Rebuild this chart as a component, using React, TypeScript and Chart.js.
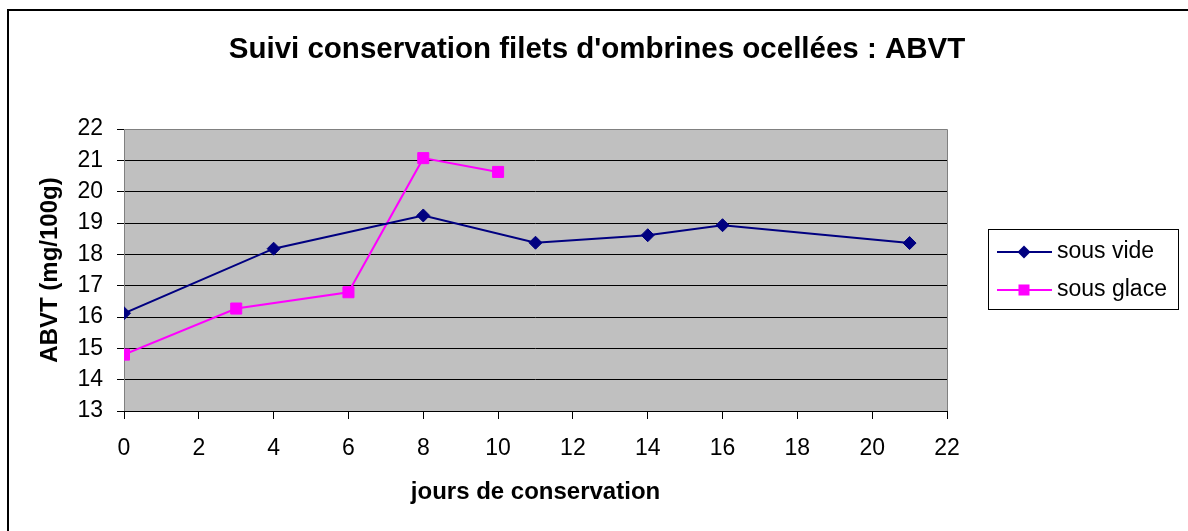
import React, { useEffect, useRef } from 'react';
import { Chart, registerables } from 'chart.js';

Chart.register(...registerables);

// ---- Data ----
const daysVide = [0, 4, 8, 11, 14, 16, 21];
const valuesVide = [16.12, 18.18, 19.24, 18.37, 18.61, 18.93, 18.36];
const daysGlace = [0, 3, 6, 8, 10];
const valuesGlace = [14.8, 16.27, 16.79, 21.07, 20.63];
const seriesNames = ['sous vide', 'sous glace'];
const chartTitle = "Suivi conservation filets d'ombrines ocellées : ABVT";
const xAxisTitle = 'jours de conservation';
const yAxisTitle = 'ABVT (mg/100g)';
const xRange = [0, 22];
const xStep = 2;
const yRange = [13, 22];
const yStep = 1;

const FONT = '"Liberation Sans", Arial, Helvetica, sans-serif';

const decorPlugin = {
  id: 'excelDecor',
  beforeDraw(chart: any) {
    const { ctx, chartArea: a } = chart;
    ctx.save();
    ctx.fillStyle = '#ffffff';
    ctx.fillRect(0, 0, chart.width, chart.height);
    // outer frame
    ctx.strokeStyle = '#000000';
    ctx.lineWidth = 2;
    ctx.strokeRect(8, 10, 2000, 2000);
    // plot background
    ctx.fillStyle = '#C0C0C0';
    ctx.fillRect(a.left, a.top, a.right - a.left, a.bottom - a.top);
    ctx.restore();
  },
  beforeDatasetsDraw(chart: any) {
    const { ctx, chartArea: a } = chart;
    ctx.save();
    ctx.strokeStyle = '#808080';
    ctx.lineWidth = 1;
    ctx.beginPath();
    ctx.moveTo(a.left + 0.5, a.bottom);
    ctx.lineTo(a.left + 0.5, a.top + 0.5);
    ctx.lineTo(a.right + 0.5, a.top + 0.5);
    ctx.lineTo(a.right + 0.5, a.bottom);
    ctx.stroke();
    ctx.strokeStyle = '#000000';
    ctx.beginPath();
    ctx.moveTo(a.left, a.bottom + 0.5);
    ctx.lineTo(a.right + 1, a.bottom + 0.5);
    ctx.stroke();
    ctx.restore();
  },
  afterDraw(chart: any) {
    const { ctx, chartArea: a } = chart;
    ctx.save();
    ctx.fillStyle = '#000000';
    // title
    ctx.font = `bold 29.5px ${FONT}`;
    ctx.textAlign = 'center';
    ctx.textBaseline = 'alphabetic';
    ctx.fillText(chartTitle, 597, 58);
    // x axis title
    ctx.font = `bold 24px ${FONT}`;
    ctx.fillText(xAxisTitle, (a.left + a.right) / 2, 499);
    // y axis title
    ctx.save();
    ctx.translate(56.5, (a.top + a.bottom) / 2);
    ctx.rotate(-Math.PI / 2);
    ctx.fillText(yAxisTitle, 0, 0);
    ctx.restore();

    // legend
    ctx.strokeStyle = '#000000';
    ctx.lineWidth = 1;
    ctx.strokeRect(988.5, 229.5, 190, 80);
    const rows = [252, 290];
    chart.data.datasets.forEach((ds: any, i: number) => {
      const cy = rows[i];
      ctx.strokeStyle = ds.borderColor;
      ctx.lineWidth = ds.borderWidth;
      ctx.beginPath();
      ctx.moveTo(997, cy);
      ctx.lineTo(1052, cy);
      ctx.stroke();
      ctx.fillStyle = ds.pointBackgroundColor;
      const cx = 1024;
      const r = ds.pointRadius;
      ctx.beginPath();
      if (ds.pointStyle === 'rectRot') {
        ctx.moveTo(cx - r, cy);
        ctx.lineTo(cx, cy - r);
        ctx.lineTo(cx + r, cy);
        ctx.lineTo(cx, cy + r);
        ctx.closePath();
      } else {
        const s = r * Math.SQRT1_2;
        ctx.rect(cx - s, cy - s, 2 * s, 2 * s);
      }
      ctx.fill();
      ctx.fillStyle = '#000000';
      ctx.font = `23px ${FONT}`;
      ctx.textAlign = 'left';
      ctx.textBaseline = 'alphabetic';
      ctx.fillText(ds.label, 1057, cy + 6);
    });
    ctx.restore();
  },
};

export default function App() {
  const canvasRef = useRef<HTMLCanvasElement | null>(null);

  useEffect(() => {
    const canvas = canvasRef.current;
    if (!canvas) return;
    const chart = new Chart(canvas, {
      type: 'line',
      data: {
        datasets: [
          {
            label: seriesNames[0],
            data: daysVide.map((d, i) => ({ x: d, y: valuesVide[i] })),
            borderColor: '#000080',
            backgroundColor: '#000080',
            borderWidth: 2,
            pointStyle: 'rectRot',
            pointRadius: 6.5,
            pointBackgroundColor: '#000080',
            pointBorderColor: '#000080',
            pointBorderWidth: 1,
            tension: 0,
          },
          {
            label: seriesNames[1],
            data: daysGlace.map((d, i) => ({ x: d, y: valuesGlace[i] })),
            borderColor: '#FF00FF',
            backgroundColor: '#FF00FF',
            borderWidth: 2,
            pointStyle: 'rect',
            pointRadius: 7.8,
            pointBackgroundColor: '#FF00FF',
            pointBorderColor: '#FF00FF',
            pointBorderWidth: 1,
            tension: 0,
          },
        ],
      },
      options: {
        animation: false,
        responsive: false,
        devicePixelRatio: 1,
        events: [],
        layout: { padding: { top: 129, right: 241, bottom: 60, left: 20 } },
        plugins: {
          legend: { display: false },
          title: { display: false },
          tooltip: { enabled: false },
        },
        scales: {
          x: {
            type: 'linear',
            min: xRange[0],
            max: xRange[1],
            afterFit: (scale: any) => {
              scale.height = 60;
            },
            ticks: {
              stepSize: xStep,
              color: '#000000',
              font: { family: FONT, size: 23 },
              padding: 16,
              maxRotation: 0,
            },
            grid: {
              drawOnChartArea: false,
              drawTicks: true,
              tickLength: 8,
              tickColor: '#000000',
              color: '#000000',
            },
            border: { display: false },
          },
          y: {
            type: 'linear',
            min: yRange[0],
            max: yRange[1],
            afterFit: (scale: any) => {
              scale.width = 104;
            },
            ticks: {
              stepSize: yStep,
              color: '#000000',
              font: { family: FONT, size: 23 },
              padding: 14,
            },
            grid: {
              drawTicks: true,
              tickLength: 7,
              tickColor: '#000000',
              color: (c: any) =>
                c.tick && (c.tick.value === yRange[0] || c.tick.value === yRange[1])
                  ? 'rgba(0,0,0,0)'
                  : '#000000',
            },
            border: { display: false },
          },
        },
      },
      plugins: [decorPlugin],
    });
    return () => chart.destroy();
  }, []);

  return (
    <canvas
      ref={canvasRef}
      width={1188}
      height={531}
      style={{ position: 'fixed', left: 0, top: 0, width: '1188px', height: '531px' }}
    />
  );
}
